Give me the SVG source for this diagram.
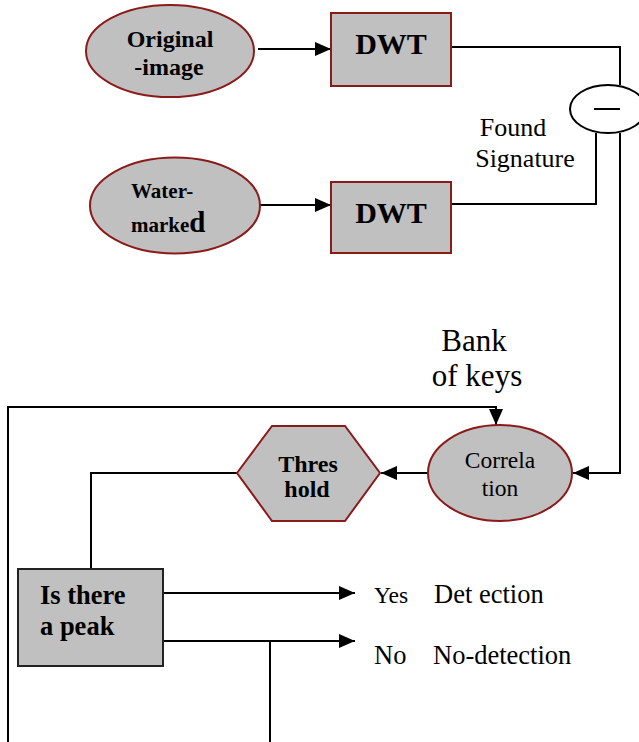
<svg xmlns="http://www.w3.org/2000/svg" width="639" height="742" viewBox="0 0 639 742">
<style>
.node{fill:#c0c0c0;stroke:#8b1a1a;stroke-width:2}
.box{fill:#c0c0c0;stroke:#222;stroke-width:2}
.ln{fill:none;stroke:#000;stroke-width:2}
.b{font-family:"Liberation Serif","Times New Roman",serif;font-weight:bold;fill:#000}
.r{font-family:"Liberation Serif","Times New Roman",serif;fill:#000}
</style>
<defs>
<marker id="ah" markerUnits="userSpaceOnUse" markerWidth="16" markerHeight="14" refX="16" refY="7" orient="auto">
<path d="M0,0 L16,7 L0,14 z" fill="#000"/>
</marker>
</defs>
<rect width="639" height="742" fill="#fff"/>
<g id="connectors">
<path class="ln" d="M258,49 H331" marker-end="url(#ah)"/>
<path class="ln" d="M260,205 H331" marker-end="url(#ah)"/>
<path class="ln" d="M451,47 H620 V85"/>
<path class="ln" d="M451,204 H596 V133"/>
<path class="ln" d="M620,133 V473 H573" marker-end="url(#ah)"/>
<path class="ln" d="M428,473 H381" marker-end="url(#ah)"/>
<path class="ln" d="M237,473 H91 V569"/>
<path class="ln" d="M8,742 V407 H496 V425" marker-end="url(#ah)"/>
<path class="ln" d="M163,593 H355" marker-end="url(#ah)"/>
<path class="ln" d="M163,641 H355" marker-end="url(#ah)"/>
<path class="ln" d="M270,641 V742"/>
</g>
<g id="original">
<ellipse class="node" cx="170" cy="51" rx="84" ry="46"/>
<text class="b" x="170" y="47" font-size="24" text-anchor="middle">Original</text>
<text class="b" x="169" y="75" font-size="24" text-anchor="middle">-image</text>
</g>
<g id="dwt1">
<rect class="node" x="331" y="13" width="120" height="73"/>
<text class="b" x="391" y="54" font-size="30" text-anchor="middle">DWT</text>
</g>
<g id="watermarked">
<ellipse class="node" cx="175" cy="205.5" rx="85" ry="48"/>
<text class="b" x="131" y="198" font-size="21">Water-</text>
<text class="b" x="131" y="232" font-size="21">marke<tspan font-size="29">d</tspan></text>
</g>
<g id="dwt2">
<rect class="node" x="331" y="182" width="120" height="71"/>
<text class="b" x="391" y="223" font-size="30" text-anchor="middle">DWT</text>
</g>
<g id="minus">
<ellipse cx="608" cy="109" rx="38" ry="24" fill="#fff" stroke="#000" stroke-width="2"/>
<line x1="594" y1="109" x2="620" y2="109" stroke="#000" stroke-width="2"/>
</g>
<g id="found-signature">
<text class="r" x="513" y="136" font-size="26" text-anchor="middle">Found</text>
<text class="r" x="525" y="167" font-size="26" text-anchor="middle">Signature</text>
</g>
<g id="bank-of-keys">
<text class="r" x="474" y="351" font-size="31" text-anchor="middle">Bank</text>
<text class="r" x="477" y="386" font-size="31" text-anchor="middle">of keys</text>
</g>
<g id="correlation">
<ellipse class="node" cx="500" cy="473" rx="72" ry="48"/>
<text class="r" x="500" y="468" font-size="23.5" text-anchor="middle">Correla</text>
<text class="r" x="500" y="496" font-size="23.5" text-anchor="middle">tion</text>
</g>
<g id="threshold">
<polygon class="node" points="237,473 272,426 345,426 380,473 345,521 272,521"/>
<text class="b" x="308" y="472" font-size="24" text-anchor="middle">Thres</text>
<text class="b" x="307" y="497" font-size="24" text-anchor="middle">hold</text>
</g>
<g id="peak">
<rect class="box" x="18" y="569" width="145" height="97"/>
<text class="b" x="40" y="604" font-size="26.5">Is there</text>
<text class="b" x="40" y="635" font-size="26.5">a peak</text>
</g>
<g id="outputs">
<text class="r" x="374" y="603" font-size="23.5">Yes</text>
<text class="r" x="434" y="603" font-size="26.5">Det ection</text>
<text class="r" x="374" y="664" font-size="26.5">No</text>
<text class="r" x="433" y="664" font-size="26.5">No-detection</text>
</g>
</svg>
